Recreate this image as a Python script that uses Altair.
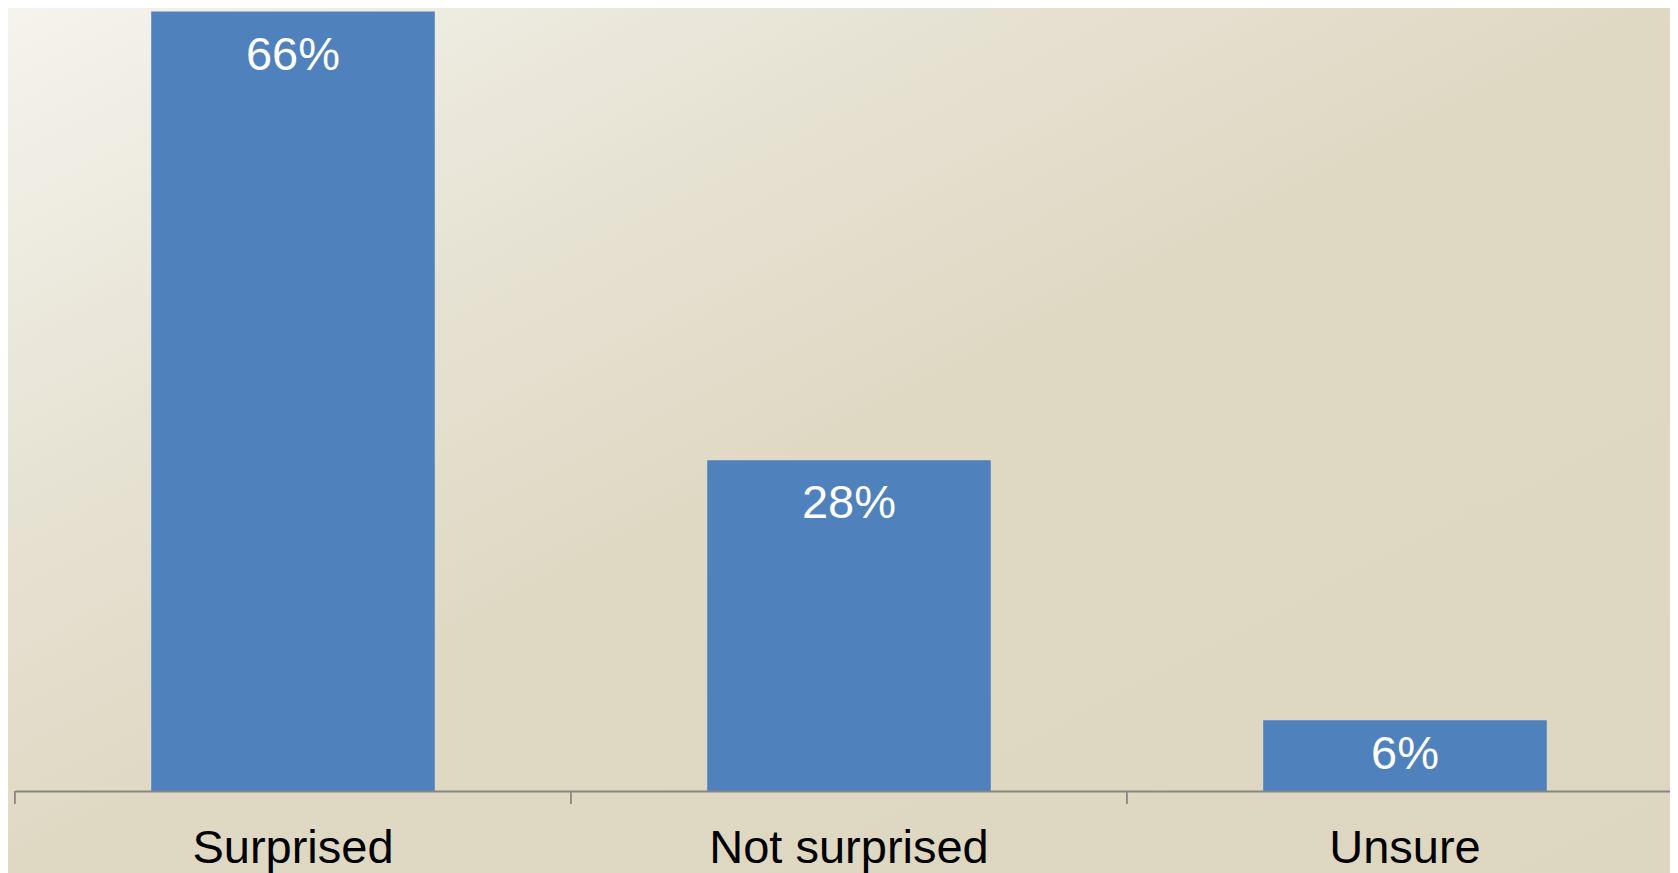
import altair as alt
import pandas as pd

# ---- data ----
categories = ["Surprised", "Not surprised", "Unsure"]
values = [66, 28, 6]

df = pd.DataFrame({"category": categories, "value": values})
bg_df = pd.DataFrame({"bg": [0]})

W = 1655
H = 783
SVG_H = 865

x_scale = alt.Scale(domain=categories, range=[0, 1668], paddingInner=0.49, paddingOuter=0.245)
y_scale = alt.Scale(domain=[0, 66.3], nice=False, zero=True)

gradient = alt.Gradient(
    gradient="linear",
    stops=[
        alt.GradientStop(color="#f5f3ed", offset=0),
        alt.GradientStop(color="#e8e4d6", offset=0.25),
        alt.GradientStop(color="#dfd9c4", offset=0.5),
        alt.GradientStop(color="#ddd7c1", offset=1),
    ],
    x1=0, y1=0, x2=1, y2=1,
)

bg = alt.Chart(bg_df).mark_rect(clip=False, color=gradient).encode(
    x=alt.value(-7), x2=alt.value(W), y=alt.value(0), y2=alt.value(SVG_H)
)

x_axis = alt.Axis(
    title=None,
    domainColor="#868686",
    domainWidth=1.8,
    ticks=False,
    labelFontSize=47,
    labelFont="Liberation Sans",
    labelColor="#000000",
    labelPadding=71,
    labelBaseline="alphabetic",
    labelAngle=0,
    labelLimit=800,
    grid=False,
    zindex=1,
)

bars = alt.Chart(df).mark_bar(color="#4f81bd").encode(
    x=alt.X("category:N", sort=categories, scale=x_scale, axis=x_axis),
    y=alt.Y("value:Q", scale=y_scale, axis=None),
)

# tick marks on the boundaries between category bands
ticks = alt.Chart(df).mark_rule(
    color="#868686", strokeWidth=1.8, clip=False, xOffset=-136.3
).encode(
    x=alt.X("category:N", sort=categories, bandPosition=0),
    y=alt.value(H),
    y2=alt.value(H + 13),
)

text_big = alt.Chart(df).transform_filter("datum.value >= 10").transform_calculate(
    label="datum.value + '%'"
).mark_text(
    color="white", fontSize=47, font="Liberation Sans", baseline="alphabetic", dy=58
).encode(
    x=alt.X("category:N", sort=categories),
    y=alt.Y("value:Q"),
    text="label:N",
)

text_small = alt.Chart(df).transform_filter("datum.value < 10").transform_calculate(
    label="datum.value + '%'"
).mark_text(
    color="white", fontSize=47, font="Liberation Sans", baseline="alphabetic", dy=49
).encode(
    x=alt.X("category:N", sort=categories),
    y=alt.Y("value:Q"),
    text="label:N",
)

chart = alt.layer(bg, bars, ticks, text_big, text_small).properties(
    width=W,
    height=H,
    autosize=alt.AutoSizeParams(type="none"),
    padding={"left": 7, "top": 0, "right": 0, "bottom": SVG_H - H},
    background="#dfd9c4",
).configure_view(stroke=None)

chart.save("out.html", embed_options={"renderer": "svg", "actions": False})
